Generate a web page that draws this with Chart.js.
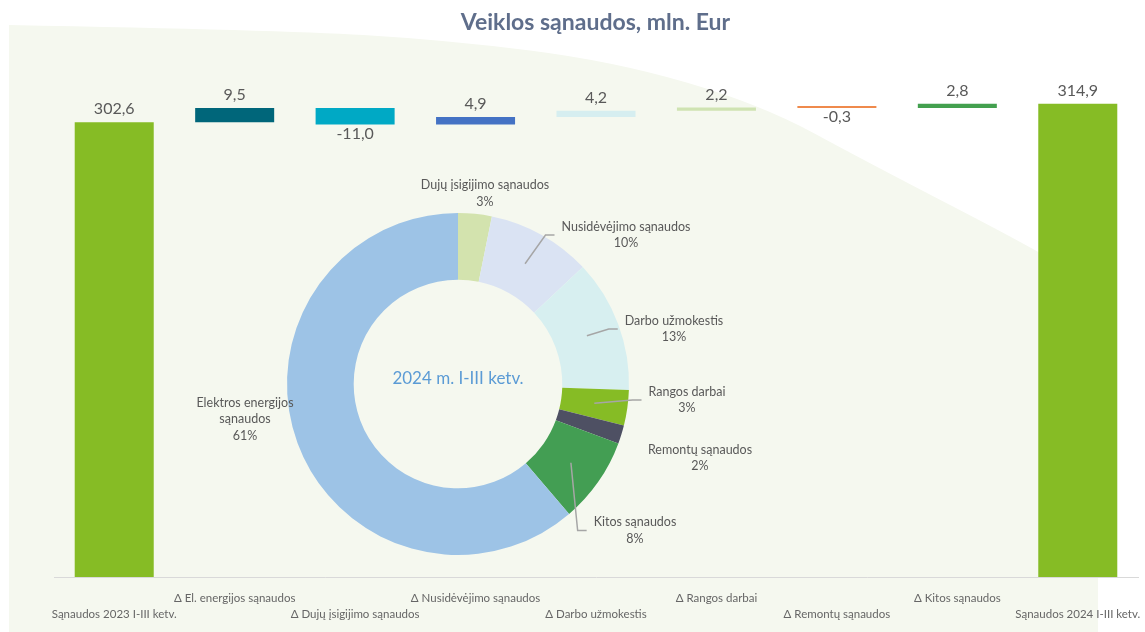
<!DOCTYPE html>
<html lang="lt">
<head>
<meta charset="utf-8">
<title>Veiklos sąnaudos, mln. Eur</title>
<script src="https://cdn.jsdelivr.net/npm/chart.js@4.4.1/dist/chart.umd.min.js"></script>
<style>
  html, body { margin: 0; padding: 0; background: #fff; }
  #wrap { position: relative; width: 1145px; height: 632px; overflow: hidden; }
  #wrap canvas { position: absolute; left: 0; top: 0; }
  #title {
    position: absolute; left: 0; top: 7px; width: 1191px;
    text-align: center; font: bold 23px Lato, "Open Sans", sans-serif; color: #5f6e8b;
  }
</style>
</head>
<body>
<div id="wrap">
  <canvas id="bars" width="1145" height="632"></canvas>
  <canvas id="pie" width="1145" height="632"></canvas>
  <div id="title">Veiklos sąnaudos, mln. Eur</div>
</div>
<script>
// --- duomenys ---
const categories = [
    'Sąnaudos 2023 I-III ketv.', 'Δ El. energijos sąnaudos', 'Δ Dujų įsigijimo sąnaudos',
    'Δ Nusidėvėjimo sąnaudos', 'Δ Darbo užmokestis', 'Δ Rangos darbai',
    'Δ Remontų sąnaudos', 'Δ Kitos sąnaudos', 'Sąnaudos 2024 I-III ketv.'
];
const startTotal = 302.6;
const deltas = [9.5, -11.0, 4.9, 4.2, 2.2, -0.3, 2.8];
const endTotal = 314.9;
const barColors = ['#86bc25', '#00667a', '#00a9c5', '#4472c4', '#d6eef0', '#cfe3b2', '#ef8a4c', '#43a04f', '#86bc25'];

const pieLabels = ['Dujų įsigijimo sąnaudos', 'Nusidėvėjimo sąnaudos', 'Darbo užmokestis', 'Rangos darbai',
    'Remontų sąnaudos', 'Kitos sąnaudos', 'Elektros energijos sąnaudos'];
const pieValues = [10, 31, 39.5, 10.5, 5.5, 25.5, 192.9];
const pieColors = ['#d3e3ae', '#dae3f3', '#d7eff0', '#86bc25', '#4e5063', '#439e53', '#9dc3e6'];
const centerLabel = '2024 m. I-III ketv.';

// waterfall: kiekvienas stulpelis [pradžia, pabaiga]
const floating = [[0, startTotal]];
let running = startTotal;
deltas.forEach(d => {
    floating.push([running, running + d]);
    running += d;
});
floating.push([0, endTotal]);
const shownValues = [startTotal, ...deltas, endTotal];

const fmt = v => v.toFixed(1).replace('.', ',');
const TEXT = '#595959';

// fono forma (šviesiai žalias lankas)
const backgroundPlugin = {
    id: 'bgShape',
    beforeDraw(chart) {
        const ctx = chart.ctx;
        const pts = [[9, 25], [280, 30], [447, 40], [613, 61], [760, 104], [867, 162], [1037, 250], [1098, 288]];
        ctx.save();
        ctx.fillStyle = '#fff';
        ctx.fillRect(0, 0, chart.width, chart.height);
        ctx.fillStyle = '#f5f8ef';
        ctx.beginPath();
        ctx.moveTo(9, chart.height);
        ctx.lineTo(pts[0][0], pts[0][1]);
        for (let i = 1; i < pts.length - 1; i++) {
            const mx = (pts[i][0] + pts[i + 1][0]) / 2;
            const my = (pts[i][1] + pts[i + 1][1]) / 2;
            ctx.quadraticCurveTo(pts[i][0], pts[i][1], mx, my);
        }
        ctx.lineTo(pts[pts.length - 1][0], pts[pts.length - 1][1]);
        ctx.lineTo(1098, chart.height);
        ctx.closePath();
        ctx.fill();
        ctx.restore();
    }
};

// reikšmės virš / po stulpeliais
const barLabelsPlugin = {
    id: 'barLabels',
    afterDatasetsDraw(chart) {
        const ctx = chart.ctx;
        ctx.save();
        ctx.font = '16px Lato, "Open Sans", sans-serif';
        ctx.fillStyle = TEXT;
        ctx.textAlign = 'center';
        ctx.textBaseline = 'middle';
        chart.getDatasetMeta(0).data.forEach((bar, i) => {
            const v = shownValues[i];
            const top = Math.min(bar.y, bar.base);
            const bottom = Math.max(bar.y, bar.base);
            ctx.fillText(fmt(v), bar.x, v < 0 ? bottom + 9 : top - 13);
        });
        ctx.restore();
    }
};

new Chart(document.getElementById('bars'), {
    type: 'bar',
    data: {
        labels: categories,
        datasets: [{
            data: floating,
            backgroundColor: barColors,
            borderWidth: 0,
            minBarLength: 2,
            categoryPercentage: 1,
            barPercentage: 0.656
        }]
    },
    options: {
        responsive: false,
        animation: false,
        devicePixelRatio: 1,
        layout: { padding: { left: 54, right: 7, top: 81, bottom: 0 } },
        plugins: { legend: { display: false }, tooltip: { enabled: false } },
        scales: {
            x: {
                grid: { display: false, drawTicks: false },
                border: { display: true, color: '#d9d9d9', width: 1 },
                afterFit: scale => {
                    scale.height = 55;
                    scale.paddingLeft = 0;
                    scale.paddingRight = 0;
                },
                ticks: {
                    autoSkip: false,
                    maxRotation: 0,
                    minRotation: 0,
                    padding: 13,
                    color: '#666',
                    font: { family: 'Lato, "Open Sans", sans-serif', size: 11.5, lineHeight: '16px' },
                    callback: (val, i) => i % 2 === 0 ? ['', categories[i]] : [categories[i], '']
                }
            },
            y: { display: false, min: 0, max: 330 }
        }
    },
    plugins: [backgroundPlugin, barLabelsPlugin]
});

// žiedo etiketės: poslinkis nuo centro ir ar reikia linijos
const pieLabelLayout = [
    { dx: 27, dy: -190.5 },
    { dx: 168, dy: -149, leader: true },
    { dx: 216, dy: -55, leader: true },
    { dx: 229, dy: 16, leader: true },
    { dx: 242, dy: 74 },
    { dx: 177, dy: 146.5, leader: true },
    { dx: -213, dy: 35, wrap: 112 }
];

function wrapText(ctx, text, maxW) {
    const words = text.split(' ');
    const lines = [];
    let line = '';
    words.forEach(w => {
        const test = line ? line + ' ' + w : w;
        if (line && ctx.measureText(test).width > maxW) {
            lines.push(line);
            line = w;
        } else {
            line = test;
        }
    });
    lines.push(line);
    return lines;
}

const pieLabelsPlugin = {
    id: 'pieLabels',
    afterDraw(chart) {
        const ctx = chart.ctx;
        const arcs = chart.getDatasetMeta(0).data;
        const total = pieValues.reduce((a, b) => a + b, 0);
        const lh = 16.5;
        ctx.save();
        ctx.font = '12.5px Lato, "Open Sans", sans-serif';
        ctx.textAlign = 'center';
        ctx.textBaseline = 'middle';
        arcs.forEach((arc, i) => {
            const cfg = pieLabelLayout[i];
            const cx = arc.x + cfg.dx;
            const cy = arc.y + cfg.dy;
            const pct = Math.round(pieValues[i] / total * 100) + '%';
            const lines = cfg.wrap ? wrapText(ctx, pieLabels[i], cfg.wrap) : [pieLabels[i]];
            lines.push(pct);
            const y0 = cy - (lines.length - 1) * lh / 2;
            ctx.fillStyle = TEXT;
            lines.forEach((t, k) => ctx.fillText(t, cx, y0 + k * lh));

            if (cfg.leader) {
                const mid = (arc.startAngle + arc.endAngle) / 2;
                const r = (arc.innerRadius + arc.outerRadius) / 2;
                const px = arc.x + Math.cos(mid) * r;
                const py = arc.y + Math.sin(mid) * r;
                const left = cx - ctx.measureText(pieLabels[i]).width / 2;
                ctx.strokeStyle = '#a6a6a6';
                ctx.lineWidth = 1.5;
                ctx.beginPath();
                ctx.moveTo(px, py);
                ctx.lineTo(left - 16, cy);
                ctx.lineTo(left - 7, cy);
                ctx.stroke();
            }
        });
        const a0 = arcs[0];
        ctx.font = '17px Lato, "Open Sans", sans-serif';
        ctx.fillStyle = '#5b9bd5';
        ctx.fillText(centerLabel, a0.x, a0.y - 5);
        ctx.restore();
    }
};

new Chart(document.getElementById('pie'), {
    type: 'doughnut',
    data: {
        labels: pieLabels,
        datasets: [{ data: pieValues, backgroundColor: pieColors, borderWidth: 0 }]
    },
    options: {
        responsive: false,
        animation: false,
        devicePixelRatio: 1,
        cutout: '61%',
        layout: { padding: { left: 287, right: 516, top: 213, bottom: 77 } },
        plugins: { legend: { display: false }, tooltip: { enabled: false } }
    },
    plugins: [pieLabelsPlugin]
});
</script>
</body>
</html>
